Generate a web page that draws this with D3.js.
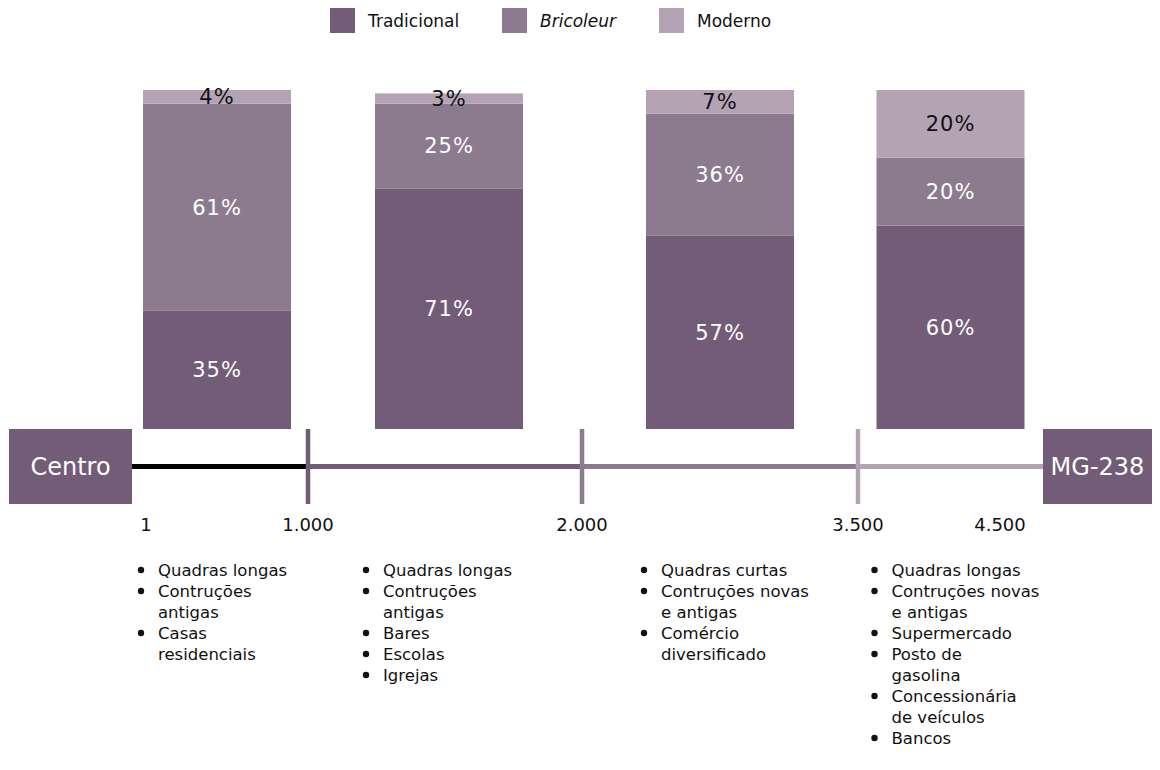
<!DOCTYPE html>
<html>
<head>
<meta charset="utf-8">
<script src="https://cdn.jsdelivr.net/npm/d3@7"></script>
<style>
  body { margin: 0; background: #fff; }
  text { font-family: "DejaVu Sans", sans-serif; }
</style>
</head>
<body>
<div id="chart"></div>
<script>
// categories / series
const types = ["Tradicional", "Bricoleur", "Moderno"];
const stretches = ["1-1000", "1000-2000", "2000-3500", "3500-4500"];
const tradicional = [35, 71, 57, 60];
const bricoleur = [61, 25, 36, 20];
const moderno = [4, 3, 7, 20];
const distTicks = [1, 1000, 2000, 3500, 4500];
const ends = ["Centro", "MG-238"];
// one list per stretch, each item split into its printed lines
const features = [
  [["Quadras longas"], ["Contruções", "antigas"], ["Casas", "residenciais"]],
  [["Quadras longas"], ["Contruções", "antigas"], ["Bares"], ["Escolas"], ["Igrejas"]],
  [["Quadras curtas"], ["Contruções novas", "e antigas"], ["Comércio", "diversificado"]],
  [["Quadras longas"], ["Contruções novas", "e antigas"], ["Supermercado"], ["Posto de", "gasolina"],
   ["Concessionária", "de veículos"], ["Bancos"]]
];

const width = 1160, height = 770;
const colors = d3.scaleOrdinal().domain(types).range(["#735c77", "#8c7a8f", "#b4a3b5"]);
const ptBR = d3.formatLocale({ decimal: ",", thousands: ".", grouping: [3], currency: ["R$", ""] });
const fmt = ptBR.format(",d");

const svg = d3.select("#chart").append("svg").attr("width", width).attr("height", height);

// legend
const legX = [330, 502, 659];
const leg = svg.append("g").selectAll("g").data(types).join("g")
    .attr("transform", (d, i) => `translate(${legX[i]},8)`);
leg.append("rect").attr("width", 25).attr("height", 25).attr("fill", d => colors(d));
leg.append("text").attr("x", 38).attr("y", 13).attr("dy", "0.35em")
    .attr("font-size", 17).attr("fill", "#111")
    .attr("font-style", d => d === "Bricoleur" ? "italic" : null)
    .text(d => d);

// road scale (piecewise, as in the drawing)
const x = d3.scaleLinear().domain(distTicks).range([146, 308, 582, 858, 1000]);
const roadY = 466.5, boxTop = 429, boxBot = 504;
const roadStart = 132, roadEnd = 1043;
const bounds = [roadStart, x(1000), x(2000), x(3500), roadEnd];
const barShift = [-3, 4, 0, 0];    // small offsets seen in the drawing
const listShift = [0, -7, 0, 0];

// bars
const y = d3.scaleLinear().domain([0, 100]).range([429, 90]);
const rows = stretches.map((s, i) => ({ stretch: s, Tradicional: tradicional[i], Bricoleur: bricoleur[i], Moderno: moderno[i] }));
const series = d3.stack().keys(types)(rows);
const barW = 148;
const cx = i => (bounds[i] + bounds[i + 1]) / 2 + barShift[i];

const layer = svg.append("g").selectAll("g").data(series).join("g")
    .attr("fill", d => colors(d.key));
layer.selectAll("rect").data(d => d).join("rect")
    .attr("x", (d, i) => cx(i) - barW / 2)
    .attr("y", d => y(d[1]))
    .attr("width", barW)
    .attr("height", d => y(d[0]) - y(d[1]));
layer.selectAll("text").data(d => d.map(v => ({ v, key: d.key }))).join("text")
    .attr("x", (d, i) => cx(i))
    .attr("y", d => (y(d.v[0]) + y(d.v[1])) / 2)
    .attr("dy", "0.36em")
    .attr("text-anchor", "middle")
    .attr("font-size", 21)
    .attr("letter-spacing", 1)
    .attr("fill", d => d.key === "Moderno" ? "#111" : "#fff")
    .text(d => (d.v[1] - d.v[0]) + "%");

// road segments
const segColors = ["#000", colors("Tradicional"), colors("Bricoleur"), colors("Moderno")];
svg.append("g").selectAll("line").data(segColors).join("line")
    .attr("x1", (d, i) => bounds[i]).attr("x2", (d, i) => bounds[i + 1])
    .attr("y1", roadY).attr("y2", roadY)
    .attr("stroke", d => d).attr("stroke-width", 5);

// tick marks on the road
svg.append("g").selectAll("line").data([1000, 2000, 3500]).join("line")
    .attr("x1", d => x(d)).attr("x2", d => x(d))
    .attr("y1", boxTop).attr("y2", boxBot)
    .attr("stroke", (d, i) => segColors[i + 1]).attr("stroke-width", 4.5);

// end boxes
const boxes = [[9, roadStart], [roadEnd, 1152]];
const eb = svg.append("g").selectAll("g").data(ends).join("g");
eb.append("rect")
    .attr("x", (d, i) => boxes[i][0]).attr("y", boxTop)
    .attr("width", (d, i) => boxes[i][1] - boxes[i][0]).attr("height", boxBot - boxTop)
    .attr("fill", colors("Tradicional"));
eb.append("text")
    .attr("x", (d, i) => (boxes[i][0] + boxes[i][1]) / 2).attr("y", roadY).attr("dy", "0.36em")
    .attr("text-anchor", "middle").attr("fill", "#fff")
    .attr("font-family", "Liberation Sans, Arial, sans-serif").attr("font-size", 24)
    .text(d => d);

// distance labels
svg.append("g").selectAll("text").data(distTicks).join("text")
    .attr("x", d => x(d)).attr("y", 525).attr("dy", "0.36em")
    .attr("text-anchor", "middle").attr("font-size", 18).attr("fill", "#111")
    .text(d => fmt(d));

// bullet lists
const lineH = 21, listTop = 576;
features.forEach((items, i) => {
  const g = svg.append("g").attr("transform", `translate(${cx(i) - barW / 2 - 5 + listShift[i]},${listTop})`);
  let row = 0;
  items.forEach(lines => {
    g.append("circle").attr("cx", 3).attr("cy", row * lineH - 6).attr("r", 3.2).attr("fill", "#111");
    lines.forEach(l => {
      g.append("text").attr("x", 20).attr("y", row * lineH)
          .attr("font-size", 16.5).attr("fill", "#111").text(l);
      row++;
    });
  });
});
</script>
</body>
</html>
